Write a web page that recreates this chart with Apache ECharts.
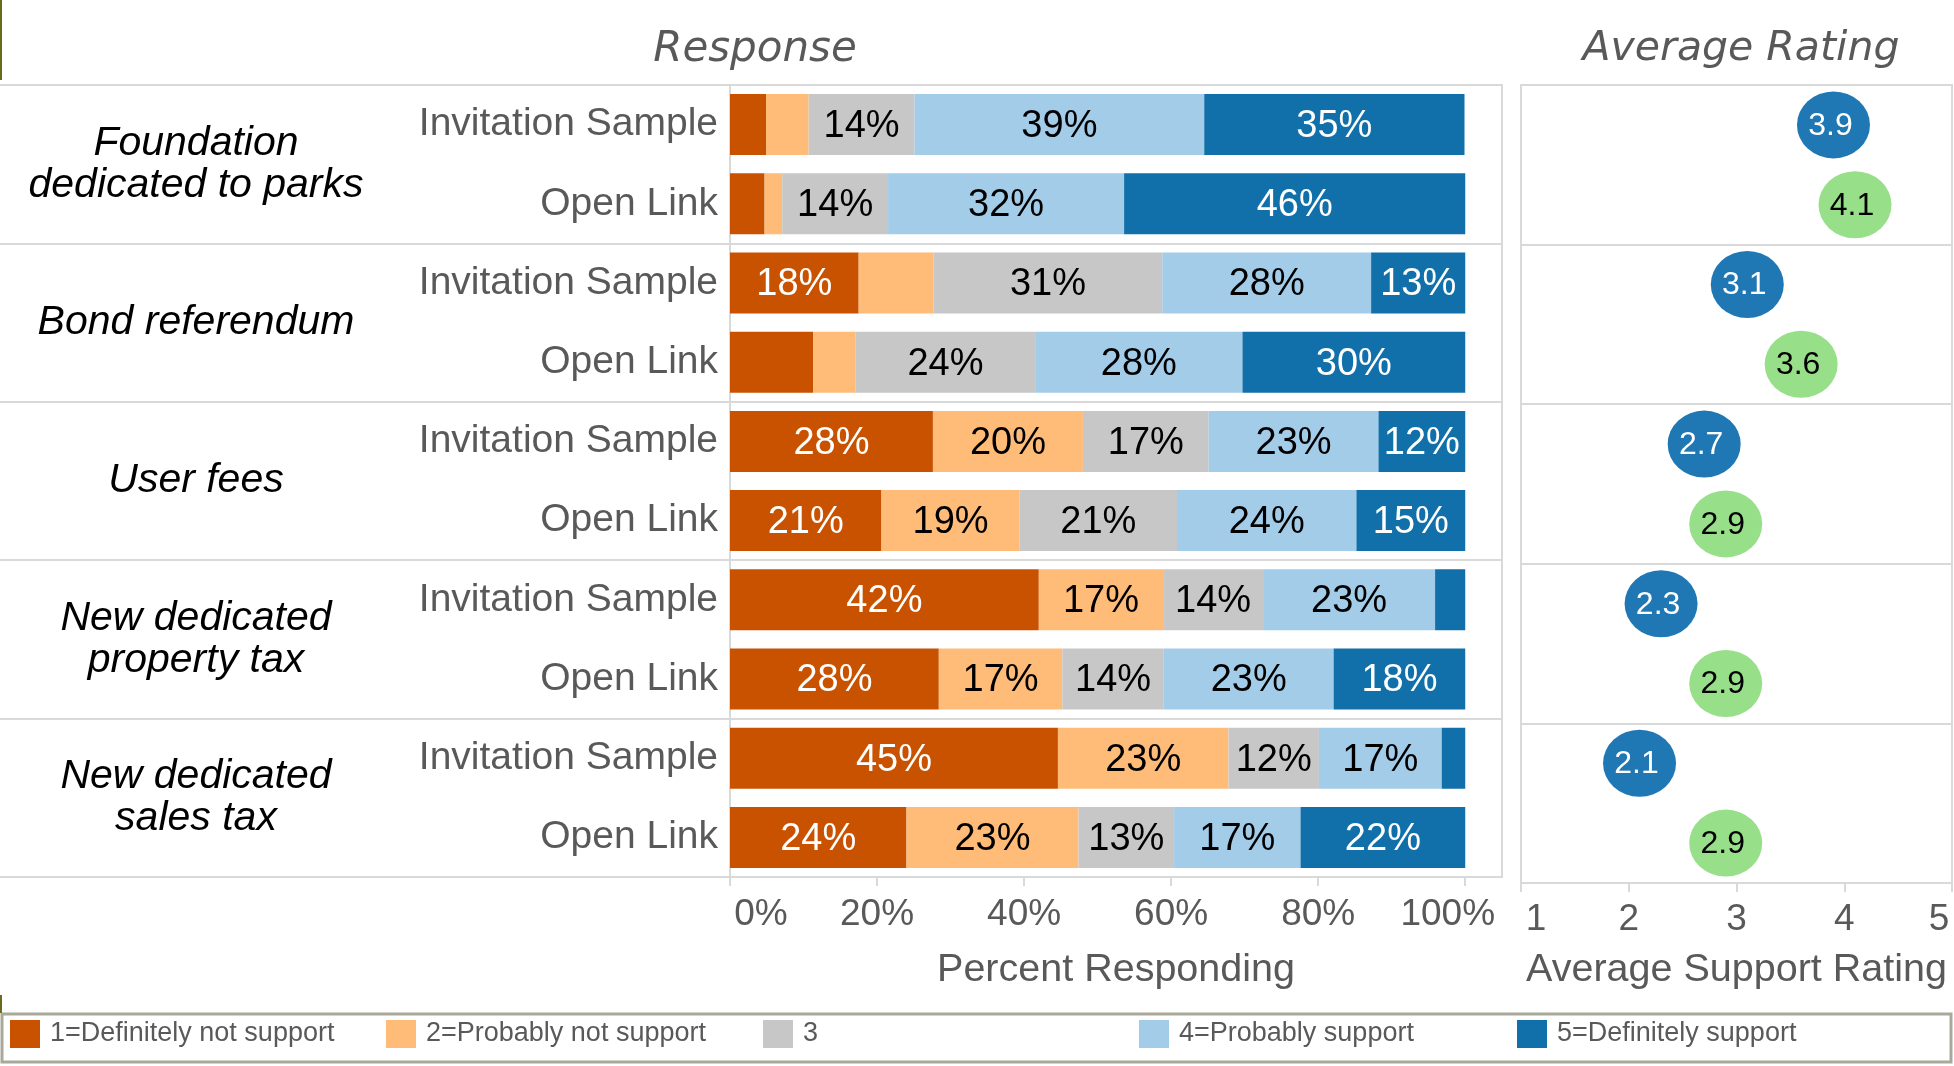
<!DOCTYPE html>
<html>
<head>
<meta charset="utf-8">
<title>Support for park funding options</title>
<script src="https://cdn.jsdelivr.net/npm/echarts@6/dist/echarts.min.js"></script>
<style>
  html, body { margin: 0; padding: 0; background: #fff; }
  #main { width: 1954px; height: 1066px; }
</style>
</head>
<body>
<div id="main"></div>
<script>
// groups and rows, top to bottom
var groupNames = ['Foundation\ndedicated to parks', 'Bond referendum', 'User fees',
  'New dedicated\nproperty tax', 'New dedicated\nsales tax'];
var rowLabels = ['Invitation Sample', 'Open Link', 'Invitation Sample', 'Open Link',
  'Invitation Sample', 'Open Link', 'Invitation Sample', 'Open Link',
  'Invitation Sample', 'Open Link'];

// percent responding per level, one value per row
var definitelyNot     = [4.9, 4.7, 17.5, 11.3, 27.6, 20.6, 42.0, 28.4, 44.6, 24.0];
var probablyNot       = [5.8, 2.4, 10.2, 5.8, 20.4, 18.8, 16.9, 16.8, 23.2, 23.4];
var neutral           = [14.4, 14.4, 31.1, 24.4, 17.1, 21.4, 13.6, 13.8, 12.3, 13.0];
var probablySupport   = [39.4, 32.1, 28.4, 28.2, 23.1, 24.4, 23.4, 23.1, 16.7, 17.2];
var definitelySupport = [35.4, 46.4, 12.8, 30.3, 11.8, 14.8, 4.1, 17.9, 3.2, 22.4];

// average support rating per row
var ratingAvg = [3.9, 4.1, 3.1, 3.6, 2.7, 2.9, 2.3, 2.9, 2.1, 2.9];

var percentTicks = [0, 20, 40, 60, 80, 100];
var levelNames = ['1=Definitely not support', '2=Probably not support', '3',
  '4=Probably support', '5=Definitely support'];

var FONT = '"Liberation Sans", Arial, sans-serif';
var GRAY = '#595959';
var LINE = '#d9d9d9';
var levelColors = ['#c85200', '#ffbc79', '#c7c7c7', '#a3cce9', '#1170aa'];
var labelColors = ['#ffffff', '#000000', '#000000', '#000000', '#ffffff'];

var chart = echarts.init(document.getElementById('main'));

var levelData = [definitelyNot, probablyNot, neutral, probablySupport, definitelySupport];
var series = levelData.map(function (arr, k) {
  return {
    name: levelNames[k],
    type: 'bar',
    stack: 'resp',
    xAxisIndex: 1,
    yAxisIndex: 1,
    barWidth: 61,
    data: arr,
    itemStyle: { color: levelColors[k] },
    label: {
      show: true,
      position: 'inside',
      offset: [0, 2],
      color: labelColors[k],
      fontFamily: FONT,
      fontSize: 38,
      formatter: function (p) {
        return p.value >= 11.5 ? Math.round(p.value) + '%' : '';
      }
    },
    emphasis: { disabled: true }
  };
});

series.push({
  name: 'Average',
  type: 'scatter',
  xAxisIndex: 2,
  yAxisIndex: 2,
  symbol: 'circle',
  symbolSize: [73, 67],
  data: ratingAvg.map(function (v, i) {
    var open = i % 2 === 1;
    return {
      value: [v, i],
      itemStyle: { color: open ? '#98df8a' : '#1f77b4', opacity: 1 },
      label: { color: open ? '#000' : '#fff' }
    };
  }),
  label: {
    show: true,
    position: 'inside',
    offset: [-3, 1],
    fontFamily: FONT,
    fontSize: 32,
    formatter: function (p) { return p.value[0].toFixed(1); }
  },
  emphasis: { disabled: true }
});

var tickText = { fontFamily: FONT, fontSize: 37, color: GRAY };
var nameText = { fontFamily: FONT, fontSize: 39.5, color: GRAY };
var titleText = { fontFamily: '"DejaVu Sans", sans-serif', fontStyle: 'italic',
  fontWeight: 'normal', fontSize: 41, color: GRAY };

var everyGroup = function (i) { return i % 2 === 0; };

// one legend per level so the items sit on a fixed pitch
var legendLeft = [10, 386, 763, 1139, 1517];
var legends = levelNames.map(function (name, k) {
  return {
    data: [name],
    left: legendLeft[k],
    top: 1020,
    padding: 0,
    icon: 'rect',
    itemWidth: 30,
    itemHeight: 28,
    selectedMode: false,
    formatter: function (n) { return '{w|' + n + '}'; },
    textStyle: {
      fontFamily: FONT, fontSize: 27, color: GRAY,
      rich: { w: { padding: [0, 0, 0, 5], fontFamily: FONT, fontSize: 27, color: GRAY } }
    }
  };
});

chart.setOption({
  animation: false,
  backgroundColor: '#fff',
  title: [
    { text: 'Response', left: 755, top: 29, textAlign: 'center', padding: 0,
      textStyle: Object.assign({}, titleText, { fontSize: 42 }) },
    { text: 'Average Rating', left: 1741, top: 29, textAlign: 'center', padding: 0, textStyle: titleText }
  ],
  legend: legends,
  grid: [
    { left: 0, top: 85, width: 730, height: 792 },
    { left: 730, top: 85, width: 772, height: 792, show: true,
      borderColor: LINE, borderWidth: 2, backgroundColor: 'transparent' },
    { left: 1521, top: 85, width: 431, height: 798, show: true,
      borderColor: LINE, borderWidth: 2, backgroundColor: 'transparent' }
  ],
  xAxis: [
    { gridIndex: 0, type: 'value', show: false },
    {
      gridIndex: 1, type: 'value', min: 0, max: 105,
      axisLine: { show: false },
      splitLine: { show: false },
      axisTick: { show: true, customValues: percentTicks, length: 9,
        lineStyle: { color: LINE, width: 2 } },
      axisLabel: {
        customValues: percentTicks,
        margin: 19,
        fontFamily: FONT, fontSize: 37, color: GRAY,
        formatter: function (v) {
          if (v === 0) return '{first|0%}';
          if (v === 100) return '{last|100%}';
          return v + '%';
        },
        rich: {
          first: Object.assign({ padding: [0, 0, 0, 62] }, tickText),
          last: Object.assign({ padding: [0, 35, 0, 0] }, tickText)
        }
      },
      name: 'Percent Responding',
      nameLocation: 'middle',
      nameGap: 73,
      nameTextStyle: nameText
    },
    {
      gridIndex: 2, type: 'value', min: 1, max: 5, interval: 1,
      axisLine: { show: false },
      splitLine: { show: false },
      axisTick: { show: true, length: 9, lineStyle: { color: LINE, width: 2 } },
      axisLabel: {
        margin: 18,
        fontFamily: FONT, fontSize: 37, color: GRAY,
        formatter: function (v) {
          if (v === 1) return '{first|1}';
          if (v === 5) return '{last|5}';
          return String(v);
        },
        rich: {
          first: Object.assign({ padding: [0, 0, 0, 30] }, tickText),
          last: Object.assign({ padding: [0, 26, 0, 0] }, tickText)
        }
      },
      name: 'Average Support Rating',
      nameLocation: 'middle',
      nameGap: 67,
      nameTextStyle: nameText
    }
  ],
  yAxis: [
    {
      gridIndex: 0, type: 'category', data: groupNames, inverse: true,
      axisLine: { show: false },
      axisTick: { show: false },
      splitLine: { show: true, interval: 0, lineStyle: { color: LINE, width: 2 } },
      axisLabel: {
        inside: true, margin: 196, align: 'center', interval: 0,
        fontFamily: FONT, fontStyle: 'italic', fontSize: 41, lineHeight: 42, color: '#000'
      }
    },
    {
      gridIndex: 1, type: 'category', data: rowLabels, inverse: true,
      axisLine: { show: false },
      axisTick: { show: false },
      splitLine: { show: true, interval: everyGroup, lineStyle: { color: LINE, width: 2 } },
      axisLabel: { margin: 12, interval: 0, fontFamily: FONT, fontSize: 39, color: GRAY,
        verticalAlign: 'middle', padding: [4, 0, 0, 0] }
    },
    {
      gridIndex: 2, type: 'category', data: rowLabels, inverse: true,
      axisLine: { show: false },
      axisTick: { show: false },
      axisLabel: { show: false },
      splitLine: { show: true, interval: everyGroup, lineStyle: { color: LINE, width: 2 } }
    }
  ],
  graphic: [
    { type: 'line', shape: { x1: 1, y1: 0, x2: 1, y2: 80 }, style: { stroke: '#6b6b1f', lineWidth: 2 } },
    { type: 'line', shape: { x1: 1, y1: 995, x2: 1, y2: 1013 }, style: { stroke: '#6b6b1f', lineWidth: 2 } },
    // frame round the legend row
    { type: 'rect', shape: { x: 2, y: 1014, width: 1949, height: 48 },
      style: { fill: 'none', stroke: '#a9a99b', lineWidth: 3 }, z: -1 }
  ],
  series: series
});
</script>
</body>
</html>
